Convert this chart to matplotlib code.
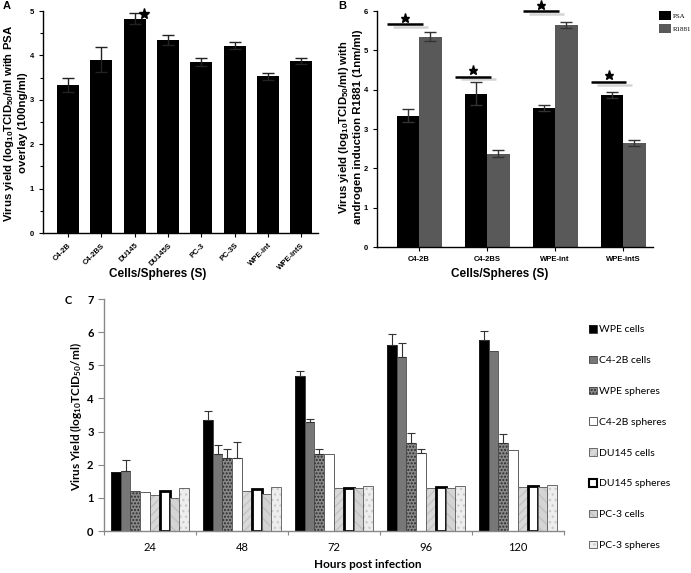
import matplotlib
matplotlib.use('Agg')
import matplotlib.pyplot as plt
import matplotlib.patheffects as pe
from matplotlib.patches import Patch
import numpy as np

plt.rcParams['font.family'] = ['Liberation Sans', 'DejaVu Sans']
plt.rcParams['mathtext.default'] = 'regular'

# ---- panel A data ----
a_cells = ['C4-2B', 'C4-2BS', 'DU145', 'DU145S', 'PC-3', 'PC-3S', 'WPE-int', 'WPE-intS']
a_vals = [3.33, 3.90, 4.83, 4.35, 3.85, 4.22, 3.53, 3.87]
a_err = [0.16, 0.28, 0.13, 0.12, 0.10, 0.08, 0.08, 0.07]

# ---- panel B data ----
b_cells = ['C4-2B', 'C4-2BS', 'WPE-int', 'WPE-intS']
b_psa = [3.34, 3.90, 3.54, 3.87]
b_psa_err = [0.16, 0.29, 0.07, 0.07]
b_r1881 = [5.35, 2.37, 5.65, 2.65]
b_r1881_err = [0.11, 0.09, 0.07, 0.07]
b_sig_y = [5.66, 4.33, 5.99, 4.20]

# ---- panel C data ----
hours = ['24', '48', '72', '96', '120']
c_labels = ['WPE cells', 'C4-2B cells', 'WPE spheres', 'C4-2B spheres',
            'DU145 cells', 'DU145 spheres', 'PC-3 cells', 'PC-3 spheres']
wpe_cells = [1.77, 3.35, 4.67, 5.60, 5.77]
c42b_cells = [1.82, 2.31, 3.30, 5.24, 5.43]
wpe_spheres = [1.22, 2.20, 2.33, 2.66, 2.67]
c42b_spheres = [1.19, 2.20, 2.33, 2.36, 2.44]
du145_cells = [1.09, 1.22, 1.31, 1.31, 1.32]
du145_spheres = [1.22, 1.28, 1.31, 1.32, 1.36]
pc3_cells = [1.00, 1.11, 1.31, 1.31, 1.33]
pc3_spheres = [1.31, 1.34, 1.37, 1.37, 1.39]
wpe_cells_err = [0, 0.28, 0.15, 0.35, 0.27]
c42b_cells_err = [0.33, 0.27, 0.07, 0.42, 0]
wpe_spheres_err = [0, 0.28, 0.15, 0.29, 0.27]
c42b_spheres_err = [0, 0.49, 0, 0.12, 0]

W, H = 691, 573
fig = plt.figure(figsize=(W / 100, H / 100), dpi=100)


def px(l, t, r, b):
    return [l / W, 1 - b / H, (r - l) / W, (b - t) / H]


def simple_axes(ax, col='black'):
    for s in ['top', 'right']:
        ax.spines[s].set_visible(False)
    for s in ['left', 'bottom']:
        ax.spines[s].set_color(col)
        ax.spines[s].set_linewidth(1.0)
    ax.tick_params(direction='out', length=3, width=0.8, colors=col)


# ================= A =================
axA = fig.add_axes(px(43, 11, 318, 233))
xa = np.arange(len(a_cells))
axA.bar(xa, a_vals, width=0.66, color='black')
axA.errorbar(xa, a_vals, yerr=a_err, fmt='none', ecolor='#222', elinewidth=1, capsize=4, capthick=1)
axA.set_xlim(-0.75, 7.5)
axA.set_ylim(0, 5)
axA.set_yticks(range(6))
axA.set_yticks(np.arange(0.5, 5, 1), minor=True)
axA.set_xticks(xa)
axA.set_xticklabels(a_cells, rotation=45, ha='right', rotation_mode='anchor',
                    fontsize=5.5, fontweight='bold')
simple_axes(axA)
axA.tick_params(axis='y', labelsize=5.5)
axA.tick_params(axis='y', which='minor', length=2, width=0.8)
for lab in axA.get_yticklabels():
    lab.set_fontweight('bold')
axA.plot([2.27], [4.94], marker='*', color='black', markersize=8, clip_on=False)
fig.text(15 / W, 1 - 123 / H,
         'Virus yield (log$_{10}$TCID$_{50}$/ml with PSA\noverlay (100ng/ml)',
         rotation=90, ha='center', va='center', fontsize=8.2, fontweight='bold',
         multialignment='center', linespacing=1.3)
fig.text(158 / W, 1 - 274 / H, 'Cells/Spheres (S)', ha='center', va='center',
         fontsize=8.5, fontweight='bold')
fig.text(3 / W, 1 - 6 / H, 'A', ha='left', va='center', fontsize=8, fontweight='bold')

# ================= B =================
axB = fig.add_axes(px(377, 11, 653, 247))
xb = np.arange(len(b_cells))
bw = 0.33
axB.bar(xb - bw / 2, b_psa, width=bw, color='black', label='PSA')
axB.bar(xb + bw / 2, b_r1881, width=bw, color='#595959', label='R1881')
axB.errorbar(xb - bw / 2, b_psa, yerr=b_psa_err, fmt='none', ecolor='#333',
             elinewidth=1, capsize=4, capthick=1)
axB.errorbar(xb + bw / 2, b_r1881, yerr=b_r1881_err, fmt='none', ecolor='#333',
             elinewidth=1, capsize=4, capthick=1)
for i, y in enumerate(b_sig_y):
    axB.plot([i - 0.47, i + 0.05], [y, y], color='black', lw=1.8, clip_on=False,
             solid_capstyle='butt',
             path_effects=[pe.SimpleLineShadow(offset=(4, -2), shadow_color='#aaa', alpha=0.5),
                           pe.Normal()])
    axB.plot([i - 0.21], [y + 0.17], marker='*', color='black', markersize=6.5, clip_on=False)
axB.set_xlim(-0.62, 3.44)
axB.set_ylim(0, 6)
axB.set_yticks(range(7))
axB.set_xticks(xb)
axB.set_xticklabels(b_cells, fontsize=5.5, fontweight='bold')
simple_axes(axB)
axB.tick_params(axis='y', labelsize=5.5)
for lab in axB.get_yticklabels():
    lab.set_fontweight('bold')
axB.legend(loc='upper left', bbox_to_anchor=(659 / W, 1 - 11 / H),
           bbox_transform=fig.transFigure, frameon=False,
           prop={'family': 'Liberation Serif', 'size': 5},
           handlelength=1.7, handleheight=1.7, handletextpad=0.3, labelspacing=0.5,
           borderaxespad=0, borderpad=0)
fig.text(350 / W, 1 - 127 / H,
         'Virus yield (log$_{10}$TCID$_{50}$/ml) with\nandrogen induction R1881 (1nm/ml)',
         rotation=90, ha='center', va='center', fontsize=8.2, fontweight='bold',
         multialignment='center', linespacing=1.3)
fig.text(500 / W, 1 - 274 / H, 'Cells/Spheres (S)', ha='center', va='center',
         fontsize=8.5, fontweight='bold')
fig.text(338 / W, 1 - 6 / H, 'B', ha='left', va='center', fontsize=8, fontweight='bold')

# ================= C =================
cfont = ['Lato', 'DejaVu Sans']
axC = fig.add_axes(px(104, 299, 564, 531))
series = [wpe_cells, c42b_cells, wpe_spheres, c42b_spheres,
          du145_cells, du145_spheres, pc3_cells, pc3_spheres]
errs = [wpe_cells_err, c42b_cells_err, wpe_spheres_err, c42b_spheres_err,
        None, None, None, None]
# facecolor, hatch, hatch colour, edge colour, edge width
styles = [('black', None, 'black', '#222', 0.6),
          ('#777777', None, '#777777', '#444', 0.6),
          ('#8a8a8a', '.....', '#2a2a2a', '#444', 0.6),
          ('white', None, 'white', '#444', 0.6),
          ('#d9d9d9', '////', '#c4c4c4', '#555', 0.6),
          ('white', None, 'white', 'black', 2.0),
          ('#d4d4d4', '\\\\\\', '#c0c0c0', '#555', 0.6),
          ('#eeeeee', '...', '#cccccc', '#555', 0.6)]
n = len(hours)
xc = np.arange(n) + 0.5
cw = 0.85 / 8
handles = []
for j, (vals, st) in enumerate(zip(series, styles)):
    fc, hatch, hc, ec, lw = st
    pos = xc + (j - 3.5) * cw
    axC.bar(pos, vals, width=cw, color=fc, hatch=hatch, edgecolor=hc, linewidth=0)
    axC.bar(pos, vals, width=cw, fill=False, edgecolor=ec, linewidth=lw)
    if errs[j] is not None:
        e = np.array(errs[j])
        m = e > 0
        axC.errorbar(pos[m], np.array(vals)[m], yerr=[np.zeros(m.sum()), e[m]],
                     fmt='none', ecolor='#333', elinewidth=0.8, capsize=3, capthick=0.8)
    handles.append((Patch(facecolor=fc, hatch=hatch, edgecolor=hc, linewidth=0),
                    Patch(fill=False, edgecolor=ec, linewidth=min(lw, 1.5))))
axC.set_xlim(0, n)
axC.set_ylim(0, 7)
axC.set_yticks(range(8))
axC.set_xticks(range(n + 1))
axC.set_xticklabels([])
axC.set_xticks(xc, minor=True)
axC.set_xticklabels(hours, minor=True, fontsize=8, family=cfont)
axC.tick_params(axis='x', which='minor', length=0, pad=8)
simple_axes(axC, col='#888888')
axC.tick_params(axis='x', which='minor', labelcolor='black')
axC.tick_params(axis='y', labelsize=8, labelcolor='black', length=4)
for lab in axC.get_yticklabels():
    lab.set_fontweight('bold')
    lab.set_family(cfont)
axC.legend(handles, c_labels, loc='upper left', bbox_to_anchor=(589 / W, 1 - 325 / H),
           bbox_transform=fig.transFigure, frameon=False,
           prop={'family': cfont, 'size': 7.5},
           handlelength=0.75, handleheight=0.75, handletextpad=0.25, labelspacing=2.05,
           borderaxespad=0, borderpad=0)
fig.text(76 / W, 1 - 417 / H, 'Virus Yield (log$_{10}$TCID$_{50}$/ml)', rotation=90,
         ha='center', va='center', fontsize=8.5, fontweight='bold', family=cfont)
fig.text(368 / W, 1 - 565 / H, 'Hours post infection', ha='center', va='center',
         fontsize=8.5, fontweight='bold', family=cfont)
fig.text(68 / W, 1 - 300 / H, 'C', ha='center', va='center', fontsize=8,
         fontweight='bold', family=cfont)

fig.savefig('out.png', dpi=100)
